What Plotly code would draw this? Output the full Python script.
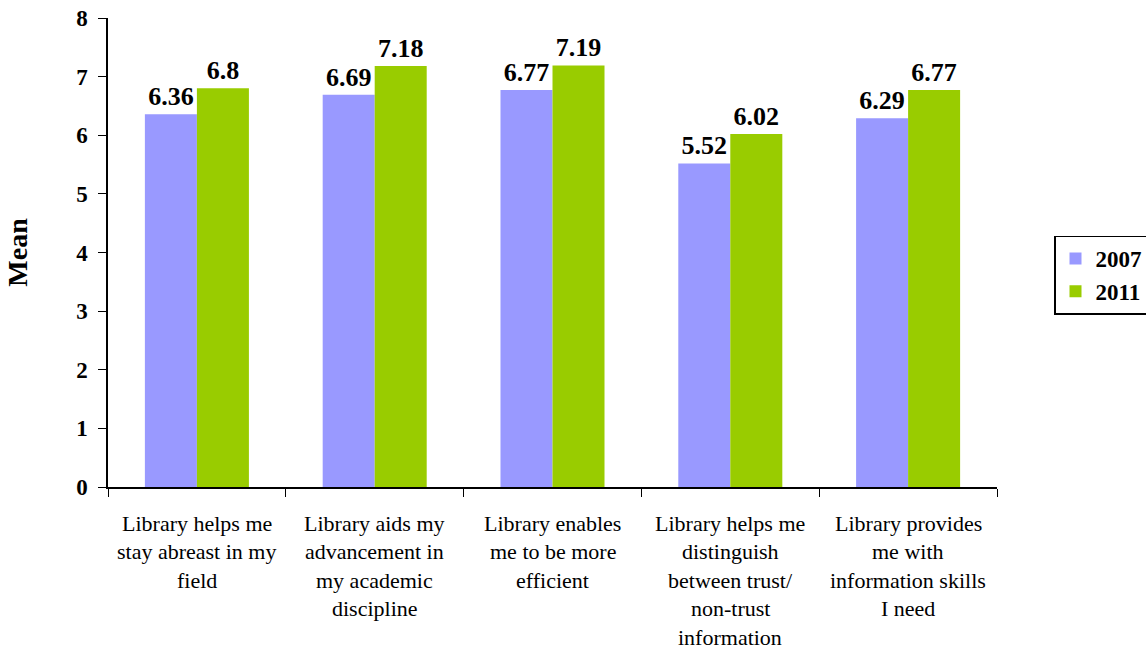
import plotly.graph_objects as go

categories = [
    "Library helps me<br>stay abreast in my<br>field",
    "Library aids my<br>advancement in<br>my academic<br>discipline",
    "Library enables<br>me to be more<br>efficient",
    "Library helps me<br>distinguish<br>between trust/<br>non-trust<br>information",
    "Library provides<br>me with<br>information skills<br>I need",
]
cat_keys = ["c1", "c2", "c3", "c4", "c5"]
values_2007 = [6.36, 6.69, 6.77, 5.52, 6.29]
values_2011 = [6.8, 7.18, 7.19, 6.02, 6.77]
series_names = ["2007", "2011"]
colors = ["#9999FF", "#99CC00"]
y_ticks = [0, 1, 2, 3, 4, 5, 6, 7, 8]

FONT = "Liberation Serif"

fig = go.Figure()
for name, vals, col in zip(series_names, [values_2007, values_2011], colors):
    fig.add_trace(go.Bar(
        name=name, x=cat_keys, y=vals, marker=dict(color=col, line=dict(width=0)),
        text=[f"{v:g}" for v in vals], textposition="outside", cliponaxis=False,
        textfont=dict(family=FONT, size=26, color="black", weight="bold"),
    ))

annotations = []
for key, label in zip(cat_keys, categories):
    for i, line in enumerate(label.split("<br>")):
        annotations.append(dict(
            x=key, xref="x", y=0, yref="paper", yanchor="middle",
            yshift=-(36 + i * 28.6), text=line, showarrow=False,
            font=dict(family=FONT, size=22, color="black"),
        ))

fig.update_layout(
    width=1146, height=652,
    margin=dict(l=108, r=149, t=18, b=165),
    paper_bgcolor="white", plot_bgcolor="white",
    barmode="group", bargap=0.415, bargroupgap=0,
    font=dict(family=FONT, color="black"),
    showlegend=True,
    legend=dict(
        xref="container", yref="container",
        x=1054 / 1146, y=(652 - 275) / 652, xanchor="left", yanchor="middle",
        bordercolor="black", borderwidth=1.5, bgcolor="white",
        font=dict(family=FONT, size=23, color="black", weight="bold"),
        itemwidth=30, tracegroupgap=0,
    ),
    annotations=annotations,
)
fig.update_xaxes(
    showline=True, linecolor="black", linewidth=1.5, automargin=False,
    ticks="outside", tickson="boundaries", ticklen=8, tickcolor="black",
    showticklabels=False, showgrid=False,
)
fig.update_yaxes(
    range=[0, 8], tickvals=y_ticks, showline=True, linecolor="black", linewidth=1.5,
    ticks="outside", ticklen=8, tickcolor="black", showgrid=False, zeroline=False,
    automargin=False, ticklabelstandoff=6,
    tickfont=dict(family=FONT, size=23, color="black", weight="bold"),
    title=dict(text="Mean", standoff=40,
               font=dict(family=FONT, size=28, color="black", weight="bold")),
)

fig.write_html("out.html", config={"displayModeBar": False},
               post_script="document.body.style.margin='0';")
